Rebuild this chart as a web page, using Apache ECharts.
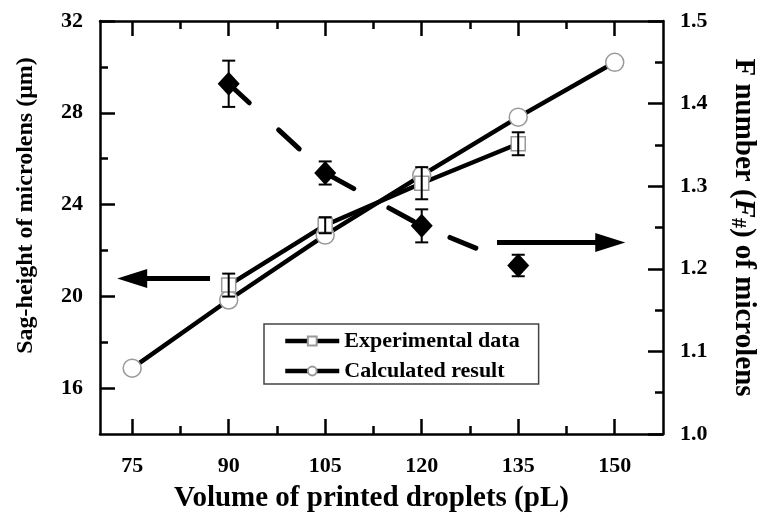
<!DOCTYPE html>
<html>
<head>
<meta charset="utf-8">
<script src="https://cdn.jsdelivr.net/npm/echarts@6/dist/echarts.min.js"></script>
<style>
html,body{margin:0;padding:0;background:#fff;}
#chart{width:766px;height:525px;}
</style>
</head>
<body>
<div id="chart"></div>
<script>
// ---- data ----
const volumes = [75, 90, 105, 120, 135, 150];
const calculated = [16.87, 19.84, 22.67, 25.27, 27.81, 30.2];
const expVolumes = [90, 105, 120, 135];
const experimental = [20.49, 23.1, 24.93, 26.65];
const experimentalErr = [0.5, 0.35, 0.7, 0.5];
const fNumber = [1.424, 1.316, 1.252, 1.204];
const fNumberErr = [0.028, 0.014, 0.02, 0.013];
const xMajorTicks = [75, 90, 105, 120, 135, 150];
const xMinorTicks = [82.5, 97.5, 112.5, 127.5, 142.5];
const yLeftMajorTicks = [16, 20, 24, 28, 32];
const yLeftMinorTicks = [18, 22, 26, 30];
const leftArrow = [[87.1, 20.78], [75.0, 20.78]];
const rightArrow = [[131.7, 22.35], [149.3, 22.35]];

const FONT = '"Liberation Serif", "Times New Roman", serif';
const AX = { color: '#000', width: 2.5 };
const xRange = { min: 70, max: 157.5 };

function xAxisDef(pos, ticks, len, showLine, labels) {
  return {
    type: 'value', position: pos, min: xRange.min, max: xRange.max,
    axisLine: { show: showLine, onZero: false, lineStyle: AX },
    axisTick: { show: true, inside: true, length: len, lineStyle: AX, customValues: ticks },
    axisLabel: labels ? {
      show: true, customValues: ticks, margin: 21,
      fontFamily: FONT, fontWeight: 'bold', fontSize: 22, color: '#000'
    } : { show: false },
    splitLine: { show: false }
  };
}
function yLeftDef(ticks, len, showLine, labels) {
  return {
    type: 'value', position: 'left', min: 14, max: 32,
    axisLine: { show: showLine, onZero: false, lineStyle: AX },
    axisTick: { show: true, inside: true, length: len, lineStyle: AX, customValues: ticks },
    axisLabel: labels ? {
      show: true, customValues: ticks, margin: 17,
      fontFamily: FONT, fontWeight: 'bold', fontSize: 22, color: '#000'
    } : { show: false },
    splitLine: { show: false }
  };
}

const xAxes = [
  Object.assign(xAxisDef('bottom', xMajorTicks, 15, true, true), {
    name: 'Volume of printed droplets (pL)', nameLocation: 'middle', nameGap: 50,
    nameTextStyle: { fontFamily: FONT, fontWeight: 'bold', fontSize: 29, color: '#000', padding: [0, 20, 0, 0] }
  }),
  xAxisDef('bottom', xMinorTicks, 8, false, false),
  xAxisDef('top', xMajorTicks, 15, true, false),
  xAxisDef('top', xMinorTicks, 8, false, false)
];
const yAxes = [
  Object.assign(yLeftDef(yLeftMajorTicks, 15, true, true), {
    name: 'Sag-height of microlens (\u03bcm)', nameLocation: 'middle', nameGap: 62,
    nameTextStyle: { fontFamily: FONT, fontWeight: 'bold', fontSize: 24, color: '#000', padding: [0, 0, 0, 44] }
  }),
  yLeftDef(yLeftMinorTicks, 8, false, false),
  {
    type: 'value', position: 'right', min: 1.0, max: 1.5, interval: 0.1,
    axisLine: { show: true, onZero: false, lineStyle: AX },
    axisTick: { show: true, inside: true, length: 15, lineStyle: AX },
    minorTick: { show: true, splitNumber: 2, length: 8, lineStyle: AX },
    axisLabel: { margin: 17, fontFamily: FONT, fontWeight: 'bold', fontSize: 22, color: '#000',
      formatter: v => v.toFixed(1) },
    splitLine: { show: false }, minorSplitLine: { show: false },
    name: 'F number ({i|F}{s|#}) of microlens', nameLocation: 'middle', nameGap: 64, nameRotate: -90,
    nameTextStyle: { fontFamily: FONT, fontWeight: 'bold', fontSize: 29, color: '#000',
      rich: {
        i: { fontFamily: FONT, fontWeight: 'bold', fontStyle: 'italic', fontSize: 29, color: '#000' },
        s: { fontFamily: FONT, fontWeight: 'bold', fontSize: 20, color: '#000', padding: [13, 0, 0, 0] }
      } }
  }
];

function errorBars(xs, ys, es) {
  return xs.map((x, i) => [x, ys[i], es[i]]);
}
function renderErr(params, api) {
  const x = api.value(0), y = api.value(1), e = api.value(2);
  const hi = api.coord([x, y + e]);
  const lo = api.coord([x, y - e]);
  const w = 6.5;
  const st = { stroke: '#000', lineWidth: 2 };
  return {
    type: 'group', children: [
      { type: 'line', shape: { x1: hi[0], y1: hi[1], x2: lo[0], y2: lo[1] }, style: st },
      { type: 'line', shape: { x1: hi[0] - w, y1: hi[1], x2: hi[0] + w, y2: hi[1] }, style: st },
      { type: 'line', shape: { x1: lo[0] - w, y1: lo[1], x2: lo[0] + w, y2: lo[1] }, style: st }
    ]
  };
}

const arrowItem = (a) => [
  { coord: a[0], symbol: 'none' },
  { coord: a[1], symbol: 'triangle', symbolSize: [19, 30] }
];

const option = {
  animation: false,
  backgroundColor: '#fff',
  grid: { left: 100, right: 100, top: 21, bottom: 91, containLabel: false },
  xAxis: xAxes,
  yAxis: yAxes,
  legend: {
    data: ['Experimental data', 'Calculated result'],
    orient: 'vertical', left: 264, top: 324,
    padding: [6, 19, 2, 19], itemGap: 8, itemWidth: 54, itemHeight: 11,
    borderColor: '#444', borderWidth: 1.5, backgroundColor: '#fff',
    lineStyle: { width: 4.5, color: '#000' },
    textStyle: { fontFamily: FONT, fontWeight: 'bold', fontSize: 22, color: '#000' },
    selectedMode: false
  },
  series: [
    {
      name: 'Calculated result', type: 'line', xAxisIndex: 0, yAxisIndex: 0,
      data: volumes.map((v, i) => [v, calculated[i]]),
      symbol: 'circle', symbolSize: 18, showAllSymbol: true,
      itemStyle: { color: '#fff', borderColor: '#999', borderWidth: 1.5 },
      lineStyle: { color: '#000', width: 4.5 },
      z: 3,
      markLine: {
        silent: true, animation: false,
        label: { show: false },
        lineStyle: { color: '#000', width: 5, type: 'solid' },
        emphasis: { disabled: true },
        data: [arrowItem(leftArrow), arrowItem(rightArrow)]
      }
    },
    {
      name: 'Experimental data', type: 'line', xAxisIndex: 0, yAxisIndex: 0,
      data: expVolumes.map((v, i) => [v, experimental[i]]),
      symbol: 'rect', symbolSize: 14, showAllSymbol: true,
      itemStyle: { color: '#fff', borderColor: '#999', borderWidth: 1.5 },
      lineStyle: { color: '#000', width: 4.5 },
      z: 3
    },
    {
      name: 'F number', type: 'line', xAxisIndex: 0, yAxisIndex: 2,
      data: expVolumes.map((v, i) => [v, fNumber[i]]),
      symbol: 'diamond', symbolSize: [22, 24], showAllSymbol: true,
      itemStyle: { color: '#000' },
      lineStyle: { color: '#000', width: 5, type: [28, 40], cap: 'round' },
      z: 3
    },
    {
      name: 'exp err', type: 'custom', xAxisIndex: 0, yAxisIndex: 0,
      data: errorBars(expVolumes, experimental, experimentalErr),
      encode: { x: 0, y: 1 }, renderItem: renderErr, z: 5, silent: true
    },
    {
      name: 'F err', type: 'custom', xAxisIndex: 0, yAxisIndex: 2,
      data: errorBars(expVolumes, fNumber, fNumberErr),
      encode: { x: 0, y: 1 }, renderItem: renderErr, z: 5, silent: true
    }
  ]
};

const chart = echarts.init(document.getElementById('chart'), null, { renderer: 'canvas' });
chart.setOption(option);
</script>
</body>
</html>
